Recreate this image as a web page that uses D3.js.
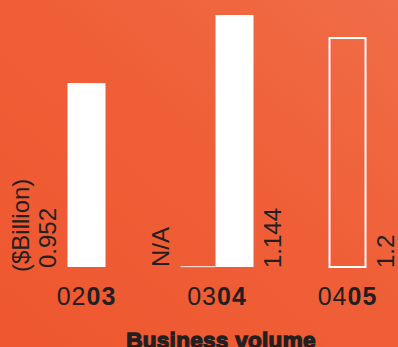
<!DOCTYPE html>
<html>
<head>
<meta charset="utf-8">
<script src="https://cdn.jsdelivr.net/npm/d3@7"></script>
<style>
  html, body { margin: 0; padding: 0; }
  body { width: 398px; height: 347px; overflow: hidden; }
  text { font-family: "Liberation Sans", Arial, sans-serif; fill: #231f20; }
</style>
</head>
<body>
<div id="chart"></div>
<script>
// fiscal years, split into the plain prefix and the bold suffix
const yearPrefix = ["02", "03", "04"];
const yearSuffix = ["03", "04", "05"];
const categories = ["0203", "0304", "0405"];

// drawn bar heights, with the printed labels
const barValues = [0.835, 1.144, 1.044];
const valueLabels = ["0.952", "1.144", "1.2"];
const barStyle = ["solid", "solid", "outline"];

// previous-year companion bar (only 0304 has one, shown as N/A)
const priorValues = [null, 0, null];
const priorLabels = [null, "N/A", null];

const unitLabel = "($Billion)";
const title = "Business volume";

const width = 398;
const height = 347;
const baseY = 267;
const barW = 38;
const priorW = 35;

const svg = d3.select("#chart")
  .append("svg")
  .attr("width", width)
  .attr("height", height);

const defs = svg.append("defs");
const grad = defs.append("linearGradient")
  .attr("id", "bg")
  .attr("x1", "0%").attr("y1", "100%")
  .attr("x2", "100%").attr("y2", "0%");
grad.append("stop").attr("offset", "0%").attr("stop-color", "#ee5730");
grad.append("stop").attr("offset", "55%").attr("stop-color", "#ef5f37");
grad.append("stop").attr("offset", "100%").attr("stop-color", "#f06d47");

svg.append("rect")
  .attr("width", width)
  .attr("height", height)
  .attr("fill", "url(#bg)");

// bar centres per year
const x = d3.scaleOrdinal()
  .domain(categories)
  .range([86.5, 234.5, 347.5]);

const y = d3.scaleLinear()
  .domain([0, 1.144])
  .range([baseY, 15]);

const bars = categories.map((c, i) => ({
  cat: c,
  value: barValues[i],
  label: valueLabels[i],
  style: barStyle[i],
  prior: priorValues[i],
  priorLabel: priorLabels[i],
}));

const g = svg.append("g");

// main bars
g.selectAll(".bar")
  .data(bars)
  .enter()
  .append("rect")
  .attr("class", "bar")
  .attr("x", (d) => x(d.cat) - barW / 2 + (d.style === "outline" ? 1 : 0))
  .attr("y", (d) => y(d.value) + (d.style === "outline" ? 1 : 0))
  .attr("width", (d) => barW - (d.style === "outline" ? 2 : 0))
  .attr("height", (d) => y(0) - y(d.value) - (d.style === "outline" ? 1 : 0))
  .attr("fill", (d) => (d.style === "outline" ? "none" : "#ffffff"))
  .attr("stroke", (d) => (d.style === "outline" ? "#ffffff" : "none"))
  .attr("stroke-width", 2);

// prior-year companion bar (zero height line)
const priors = bars.filter((d) => d.prior !== null);

g.selectAll(".prior")
  .data(priors)
  .enter()
  .append("rect")
  .attr("class", "prior")
  .attr("x", (d) => x(d.cat) - barW / 2 - priorW)
  .attr("y", (d) => y(d.prior) - 1)
  .attr("width", priorW)
  .attr("height", 1.2)
  .attr("fill", "#fbd9cc");

g.selectAll(".prior-label")
  .data(priors)
  .enter()
  .append("text")
  .attr("class", "prior-label")
  .attr("transform", (d) => `translate(${x(d.cat) - barW / 2 - priorW - 12},${baseY}) rotate(-90)`)
  .attr("font-size", 24)
  .text((d) => d.priorLabel);

// value labels: left of the first bar, right of the others
g.selectAll(".value-label")
  .data(bars)
  .enter()
  .append("text")
  .attr("class", "value-label")
  .attr("transform", (d, i) => {
    const tx = i === 0 ? x(d.cat) - barW / 2 - 12 : x(d.cat) + barW / 2 + 27;
    return `translate(${tx},${baseY + 1}) rotate(-90)`;
  })
  .attr("font-size", 24)
  .text((d) => d.label);

g.append("text")
  .attr("transform", `translate(${x(categories[0]) - barW / 2 - 39},${baseY + 5}) rotate(-90)`)
  .attr("font-size", 24)
  .text(unitLabel);

// year labels, centred under each year's group of bars
const groupCentre = (d) => {
  const b = bars.find((e) => e.cat === d);
  return b.prior !== null ? x(d) - priorW / 2 : x(d);
};

const ticks = g.selectAll(".tick-label")
  .data(categories)
  .enter()
  .append("text")
  .attr("class", "tick-label")
  .attr("x", groupCentre)
  .attr("y", 305)
  .attr("text-anchor", "middle")
  .attr("font-size", 25)
  .attr("letter-spacing", 1);

ticks.append("tspan").text((d, i) => yearPrefix[i]);
ticks.append("tspan")
  .attr("font-weight", "bold")
  .text((d, i) => yearSuffix[i]);

svg.append("text")
  .attr("x", 221)
  .attr("y", 348)
  .attr("text-anchor", "middle")
  .attr("font-size", 22.5)
  .attr("font-weight", "bold")
  .attr("stroke", "#231f20")
  .attr("stroke-width", 1.3)
  .attr("letter-spacing", 0.3)
  .text(title);
</script>
</body>
</html>
